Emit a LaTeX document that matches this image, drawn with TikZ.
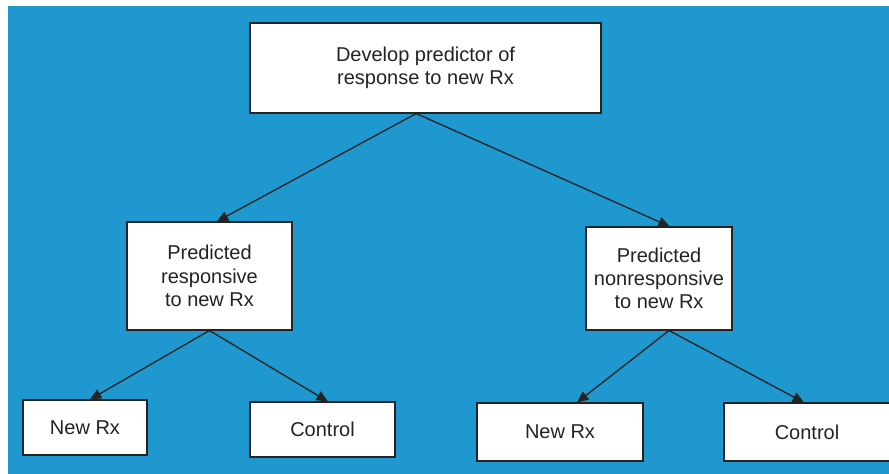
\documentclass[tikz,border=0pt]{standalone}
\usepackage{fontspec}
\setmainfont{Liberation Sans}
\usetikzlibrary{arrows.meta}
\definecolor{panelblue}{RGB}{30,152,206}
\definecolor{edgegrey}{RGB}{35,35,35}

\begin{document}
\begin{tikzpicture} [x=0.75pt,y=-0.75pt,
    box/.style={draw=edgegrey,line width=0.8pt,fill=white,rectangle,align=center,
      font=\fontsize{15}{17.5}\selectfont,text=edgegrey,inner sep=0pt},
    link/.style={-{Triangle[length=8.5pt,width=7.5pt]},line width=1pt,draw=edgegrey}]
    \useasboundingbox (0,0) rectangle (889,474);
    \fill[white] (0,0) rectangle (889,474);
    \fill[panelblue] (8,6) rectangle (889,474);

    \node[box,minimum width=263.25pt,minimum height=67.5pt] (predictor) at (425.5,68) {Develop predictor of\\response to new Rx};
    \node[box,minimum width=123.75pt,minimum height=81pt] (resp) at (209.5,276) {Predicted\\responsive\\to new Rx};
    \node[box,minimum width=109.5pt,minimum height=77.25pt] (nonresp) at (659,278.5) {Predicted\\nonresponsive\\to new Rx};
    \node[box,minimum width=93pt,minimum height=41.25pt] (rxleft) at (85,427.5) {New Rx};
    \node[box,minimum width=108.75pt,minimum height=41.25pt] (ctrlleft) at (322.5,429.5) {Control};
    \node[box,minimum width=124.5pt,minimum height=43.5pt] (rxright) at (560,432) {New Rx};
    \node[box,minimum width=124.5pt,minimum height=43.5pt] (ctrlright) at (807,432) {Control};

    \path ([xshift=-7pt]predictor.south) edge [link] ([xshift=5.5pt]resp.north);
    \path ([xshift=-7pt]predictor.south) edge [link] ([xshift=8pt]nonresp.north);
    \path (resp.south) edge [link] ([xshift=3.75pt]rxleft.north);
    \path (resp.south) edge [link] ([xshift=4pt]ctrlleft.north);
    \path ([xshift=7.5pt]nonresp.south) edge [link] ([xshift=12.75pt]rxright.north);
    \path ([xshift=7.5pt]nonresp.south) edge [link] ([xshift=-2.25pt]ctrlright.north);
\end{tikzpicture}
\end{document}
